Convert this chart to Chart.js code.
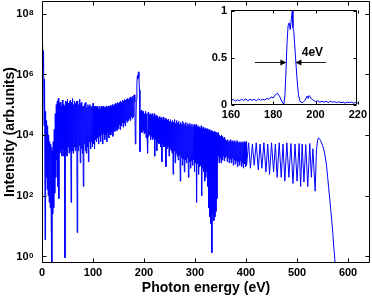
<!DOCTYPE html>
<html><head><meta charset="utf-8">
<script src="https://cdn.jsdelivr.net/npm/chart.js@4.4.1/dist/chart.umd.min.js"></script>
<style>
html,body{margin:0;padding:0;background:#fff;}
#wrap{position:relative;width:372px;height:297px;}
canvas{position:absolute;top:0;}
</style>
</head><body>
<div id="wrap">
<canvas id="main" width="372" height="297" style="left:0"></canvas>
<canvas id="inset" width="170" height="125" style="left:200px"></canvas>
</div>
<script>
// ---------- main spectrum (Photon energy in eV, intensity in arb. units) ----------
const lowEnergy = [0,1,2,3,4,5,6,7,8,9,10,11,12,13,14,15,16,17,18,19,19.5,20,21,22,23,24,25,26,27,28,29,30,31,32,33,34,35,36,37,38,39,40,41,42,43,44,45,46,47,48,49,50,51,52,53,54,55,56,57,58,59,60,61,62,63,64,65,66,67,68,69,70,71,72,73,74,75,76,77,78,79,80,81,82,83,84,85,86,87,88,89,90,91,92,93,94,95,96,97,98,99,100,101,102,103,104,105,106,107,108,109,110,111,112,113,114,115,116,117,118,119,120,121,122,123,124,125,126,127,128,129,130,131,132,133,134,135,136,137,138,139,140,141,142,143,144,145,146,147,148,149,150,151,152,153,154,155,156,157,158,159,160,161,162,163,164,165,166,167,168,169,170,171,172,173,174,175,176,177,178,179,180,181,182,183,184,185,186,187,188,189,190,191,192,193,194,195,196,197,198,199,200];
const lowIntensity = [
0.3,1.2e7,1.5e6,6e6,2e4,7e5,3.5,6e4,4e2,3e4,
1.6e2,2e4,1e2,1e4,60,6e3,40,5e3,20,4e3,
0.2,
3e3,25,6e3,40,1.5e4,1.2e2,5e4,4e2,1e5,1.5e3,
1.3e5,2e2,1.6e5,80,1.1e5,2.5e3,1.2e5,3e3,9e4,2e3,
1.4e5,3.5e3,1e5,2e3,9e4,0.9,1.3e5,3e3,1.2e5,2e3,
1.5e5,4e3,1.1e5,2.5e3,1.3e5,3e3,1.4e5,60,1.2e5,3e3,
1.6e5,2.5e3,1e5,4e3,1.3e5,3e3,1.1e5,4e3,1.3e5,6,
1.3e5,3e3,1e5,4.5e3,1.5e5,1.2e3,1.1e5,3.5e3,1.2e5,2.5e3,
9e4,200,9e4,5e3,1.1e5,3e3,1.2e5,2.5e3,8e4,4e3,
1e5,1.3e3,9e4,6e3,1e5,3.5e3,8e4,6e3,9e4,4e3,
1.1e5,5e3,8e4,3.5e3,9e4,7e3,8e4,6e3,9e4,8e3,
7e4,5e3,8.5e4,9e3,7e4,6e3,9e4,1e4,8e4,5e3,
9e4,1.1e4,8e4,7e3,8e4,1e4,9e4,6e3,8e4,1.2e4,
9e4,8e3,8.5e4,1.1e4,9.5e4,1e4,8.5e4,1.3e4,1e5,9e3,
9e4,1.5e4,1e5,1.3e4,1.1e5,1.8e4,1e5,1.4e4,1.2e5,1.6e4,
1.1e5,2.2e4,1.2e5,1.5e4,1.3e5,2e4,1.2e5,2.5e4,1.4e5,1.8e4,
1.3e5,2.5e4,1.5e5,2e4,1.4e5,3e4,1.5e5,2.6e4,1.6e5,3e4,
1.5e5,3.5e4,1.7e5,3e4,1.8e5,4e4,1.7e5,3.5e4,1.9e5,4e4,
2e5,2.1e5,1.2e5,5e3,2e4,1.5e5,5e5,9e5,7e5,1.2e6,
8e5,3e5,2.8e3,6e4,1.5e4,6.5e4,1.2e4,5.5e4,1.4e4,6e4,
1.1e4];

const midEnergy = [201,202,203,204,205,206,207,208,209,210,211,212,213,214,215,216,217,218,219,220,221,222,223,224,225,226,227,228,229,230,231,232,233,234,235,236,237,238,239,240,241,242,243,244,245,246,247,248,249,250,251,252,253,254,255,256,257,258,259,260,261,262,263,264,265,266,267,268,269,270,271,272,273,274,275,276,277,278,279,280,281,282,283,284,285,286,287,288,289,290,291,292,293,294,295,296,297,298,299,300,301,302,303,304,305,306,307,308,309,310,311,312,313,314,315,316,317,318,319,320,321,322,323,324,325,326,327,328,329,330,331,332,333,334,335,336,337,338,339,340,341,342,343,344,345,346,347,348,349,350,351,352,353,354,355,356,357,358,359,360,361,362,363,364,365,366,367,368,369,370,371,372,373,374,375,376,377,378,379,380,381,382,383,384,385,386,387,388,389,390,391,392,393,394,395,396,397,398,399,400];
const midIntensity = [
5e4,1.2e4,6e4,8e3,5e4,1e4,2.5e3,5.5e4,9e3,
4.5e4,1e4,5e4,7e3,4.5e4,9e3,5e4,7e3,4e4,8e3,
5e4,2e3,4e4,7e3,4.5e4,3e3,4e4,6e3,3.5e4,5e3,
4e4,5.5e3,3.5e4,4e3,3.8e4,1.3e3,3.2e4,5e3,3.8e4,4e3,
3e4,4.5e3,3.5e4,9e2,3.2e4,3.5e3,3e4,4e3,3.3e4,2e3,
2.8e4,3.5e3,3.2e4,3e3,2.6e4,2.5e3,3e4,5e2,2.6e4,3e3,
3.2e4,1.2e3,2.4e4,2.5e3,3e4,2e3,2.5e4,1.5e3,2.8e4,2.2e3,
2.3e4,3e2,2.6e4,1.8e3,2.2e4,1e3,2.8e4,1.6e3,2.4e4,6e2,
2.2e4,1.5e3,2.6e4,1.2e3,2e4,1.8e3,2.4e4,4e2,2.1e4,1.3e3,
2.4e4,8e2,2e4,1.4e3,2.3e4,1e3,1.9e4,1.5e3,2.2e4,6e2,
2e4,1.2e3,2.2e4,60,1.8e4,1.1e3,2e4,5e2,1.8e4,9e2,
1.7e4,1e3,2e4,100,1.6e4,8e2,1.8e4,6e2,1.5e4,3e2,
1.7e4,4e2,1.5e4,6e2,1.6e4,2e2,1.4e4,40,1.5e4,20,
1.3e4,12,1.4e4,1.3,1.3e4,25,1.2e4,15,1.3e4,20,
1.2e4,30,1.2e4,80,1.1e4,2e3,1.2e4,1.2e3,1e4,1.8e3,
9e3,1.2e3,1e4,1.5e3,9e3,2e3,8e3,1.4e3,8.5e3,1.8e3,
7e3,2e3,6.5e3,1.3e3,7e3,1.8e3,6e3,1.2e3,6.5e3,1.6e3,
7e3,1.2e3,6e3,1.7e3,6.5e3,1e3,6e3,1.5e3,6.5e3,1.1e3,
5.5e3,1.4e3,6.5e3,9e2,6e3,1.3e3,5.5e3,1e3,6e3,1.4e3,
5.5e3,9e2,6e3,1.2e3,5.5e3,8e2,6e3,1.1e3,5.5e3,9e2,
6e3];

const highEnergy = [401,405,408.5,412.5,416,420,424,427.5,431,435,439,442.5,446,450,454,457.5,461,465,469,472.5,476,480,484,488,492,496,500,504,507,510,513.5,517,521,525,528,531,535.5,538,540,542,544,546,548,550,552,554,556,558,560,562,564,566,568,570,572,574,576,578];
const highIntensity = [1e3,5.5e3,8e2,5e3,1e3,5.5e3,7e2,5e3,8e2,5.5e3,6e2,5e3,5e2,5.5e3,6e2,5e3,4e2,5.5e3,4e2,5e3,3e2,5.5e3,4e2,5.2e3,2.5e2,5e3,3e2,5.2e3,2e2,5e3,2.8e2,4.8e3,2e2,5.2e3,4e2,3.5e3,1.4e2,3e3,6.5e3,8e3,7.5e3,6.5e3,5.5e3,4.5e3,3.5e3,2.5e3,1.6e3,9e2,4e2,1.8e2,80,35,15,6,2,0.8,0.3,0.1];

const xTickValues = [0,100,200,300,400,500,600];
const yTickValues = [1,1e2,1e4,1e6,1e8];
const yTickBase = '10';
const yTickExponents = ['0','2','4','6','8'];

// ---------- inset: peak near 190 eV, normalised ----------
const insetEnergy = [160,161,162,163,164,165,166,167,168,169,170,171,172,173,174,175,176,177,178,179,180,181,182,183,184,185,185.5,186,186.5,187,187.5,188,188.5,189,189.3,189.7,190,190.5,191,191.5,192,192.5,193,194,195,196,196.5,197,198,199,200,201,202,203,204,205,206,207,208,209,210,211,212,213,214,215,216,217,218,219,220];
const insetIntensity = [0.045,0.06,0.04,0.055,0.045,0.06,0.05,0.065,0.045,0.06,0.05,0.06,0.045,0.065,0.05,0.06,0.055,0.07,0.06,0.085,0.075,0.11,0.125,0.09,0.04,0.005,0.1,0.35,0.65,0.84,0.87,0.8,0.9,1.0,0.82,0.78,0.68,0.52,0.35,0.2,0.1,0.05,0.03,0.025,0.05,0.095,0.07,0.1,0.065,0.05,0.035,0.045,0.03,0.04,0.03,0.04,0.025,0.04,0.03,0.035,0.025,0.035,0.025,0.03,0.02,0.03,0.025,0.03,0.02,0.025,0.02];
const insetXTicks = [160,180,200,220];
const insetYTicks = [0,0.5,1];
const insetYLabels = ['0','0.5','1'];
const fwhmLevel = 0.46;
const fwhmLeftArrow = [171.3,186.2];
const fwhmRightArrow = [205,190.5];
const fwhmText = '4eV';
const fwhmTextPos = [198.5,0.555];

// ---------- build ----------
function toPoints(xs, ys){ return xs.map((x,i)=>({x:x, y:ys[i]})); }
const mainPoints = toPoints(lowEnergy, lowIntensity)
  .concat(toPoints(midEnergy, midIntensity))
  .concat(toPoints(highEnergy, highIntensity));
const insetPoints = toPoints(insetEnergy, insetIntensity);

const FONT = "'Liberation Sans', Arial, Helvetica, sans-serif";

function boxPlugin(tickLen){
  return {
    id:'box',
    afterDraw(chart){
      const {ctx, chartArea:a, scales:{x,y}} = chart;
      const L = Math.floor(a.left)+0.5, R = Math.floor(a.right)-0.5, T = Math.floor(a.top)+0.5, B = Math.floor(a.bottom)-0.5;
      ctx.save();
      ctx.strokeStyle = '#000'; ctx.lineWidth = 1;
      ctx.beginPath();
      ctx.rect(L, T, R-L, B-T);
      x.ticks.forEach(t=>{
        const p = Math.round(x.getPixelForValue(t.value))+0.5;
        ctx.moveTo(p,B); ctx.lineTo(p,B-tickLen);
        ctx.moveTo(p,T); ctx.lineTo(p,T+tickLen);
      });
      y.ticks.forEach(t=>{
        const p = Math.round(y.getPixelForValue(t.value))+0.5;
        ctx.moveTo(L,p); ctx.lineTo(L+tickLen,p);
        ctx.moveTo(R,p); ctx.lineTo(R-tickLen,p);
      });
      ctx.stroke();
      ctx.restore();
    }
  };
}

const powerLabels = {
  id:'powerLabels',
  afterDraw(chart){
    const {ctx, scales:{y}} = chart;
    ctx.save();
    ctx.fillStyle = '#000';
    yTickValues.forEach((v,i)=>{
      const py = y.getPixelForValue(v);
      ctx.font = 'bold 11px ' + FONT;
      ctx.textAlign = 'right'; ctx.textBaseline = 'middle';
      ctx.fillText(yTickBase, y.right - 13.5, py + 0.5);
      ctx.font = 'bold 8px ' + FONT;
      ctx.textAlign = 'left'; ctx.textBaseline = 'alphabetic';
      ctx.fillText(yTickExponents[i], y.right - 13, py + 1.5);
    });
    ctx.restore();
  }
};

new Chart(document.getElementById('main'), {
  type:'line',
  data:{datasets:[{data:mainPoints, borderColor:'#0000ff', borderWidth:1, pointRadius:0, fill:false, tension:0}]},
  options:{
    responsive:false, animation:false, events:[],
    layout:{padding:{top:1,right:2,left:0,bottom:0}},
    plugins:{legend:{display:false}, tooltip:{enabled:false}},
    scales:{
      x:{type:'linear', min:0, max:643,
         grid:{display:false, drawTicks:false}, border:{display:false},
         afterBuildTicks:s=>{ s.ticks = xTickValues.map(v=>({value:v})); },
         afterFit:s=>{ s.height = 34; },
         ticks:{color:'#000', padding:3, maxRotation:0, autoSkip:false, font:{family:FONT, size:11, weight:'bold'}},
         title:{display:true, text:'Photon energy (eV)', color:'#000', padding:0, font:{family:FONT, size:14, weight:'bold'}}
      },
      y:{type:'logarithmic', min:0.62, max:2.6e8,
         grid:{display:false, drawTicks:false}, border:{display:false},
         afterBuildTicks:s=>{ s.ticks = yTickValues.map(v=>({value:v})); },
         afterFit:s=>{ s.width = 42; },
         ticks:{display:false},
         title:{display:true, text:'Intensity (arb.units)', color:'#000', padding:{top:2,bottom:0}, font:{family:FONT, size:14, weight:'bold'}}
      }
    }
  },
  plugins:[boxPlugin(4), powerLabels]
});

const insetDecor = {
  id:'insetDecor',
  beforeDraw(chart){
    const {ctx, chartArea:a} = chart;
    ctx.save(); ctx.fillStyle='#fff';
    ctx.fillRect(a.left, a.top, a.right-a.left, a.bottom-a.top);
    ctx.restore();
  },
  afterDraw(chart){
    const {ctx, scales:{x,y}} = chart;
    const py = Math.round(y.getPixelForValue(fwhmLevel))+0.5;
    function arrow(from, to){
      const x0 = x.getPixelForValue(from), x1 = x.getPixelForValue(to);
      const dir = Math.sign(x1-x0);
      ctx.beginPath(); ctx.moveTo(x0,py); ctx.lineTo(x1-dir*5,py); ctx.stroke();
      ctx.beginPath(); ctx.moveTo(x1,py); ctx.lineTo(x1-dir*6,py-3); ctx.lineTo(x1-dir*6,py+3); ctx.closePath(); ctx.fill();
    }
    ctx.save();
    ctx.strokeStyle='#222'; ctx.fillStyle='#000'; ctx.lineWidth=1;
    arrow(fwhmLeftArrow[0], fwhmLeftArrow[1]);
    arrow(fwhmRightArrow[0], fwhmRightArrow[1]);
    ctx.font = "bold 12px " + FONT;
    ctx.textAlign='center'; ctx.textBaseline='middle';
    ctx.fillText(fwhmText, x.getPixelForValue(fwhmTextPos[0]), y.getPixelForValue(fwhmTextPos[1]));
    ctx.restore();
  }
};

new Chart(document.getElementById('inset'), {
  type:'line',
  data:{datasets:[{data:insetPoints, borderColor:'#0000ff', borderWidth:1, pointRadius:0, fill:false, tension:0}]},
  options:{
    responsive:false, animation:false, events:[],
    layout:{padding:{top:9,right:11,left:0,bottom:0}},
    plugins:{legend:{display:false}, tooltip:{enabled:false}},
    scales:{
      x:{type:'linear', min:160, max:220,
         grid:{display:false, drawTicks:false}, border:{display:false},
         afterBuildTicks:s=>{ s.ticks = insetXTicks.map(v=>({value:v})); },
         afterFit:s=>{ s.height = 20; },
         ticks:{color:'#000', padding:3, maxRotation:0, autoSkip:false, font:{family:FONT, size:11, weight:'bold'}}
      },
      y:{type:'linear', min:0, max:1,
         grid:{display:false, drawTicks:false}, border:{display:false},
         afterBuildTicks:s=>{ s.ticks = insetYTicks.map(v=>({value:v})); },
         afterFit:s=>{ s.width = 31; },
         ticks:{color:'#000', padding:4, autoSkip:false, font:{family:FONT, size:11, weight:'bold'},
                callback:(v,i)=>insetYLabels[i]}
      }
    }
  },
  plugins:[insetDecor, boxPlugin(3)]
});
</script>
</body></html>
